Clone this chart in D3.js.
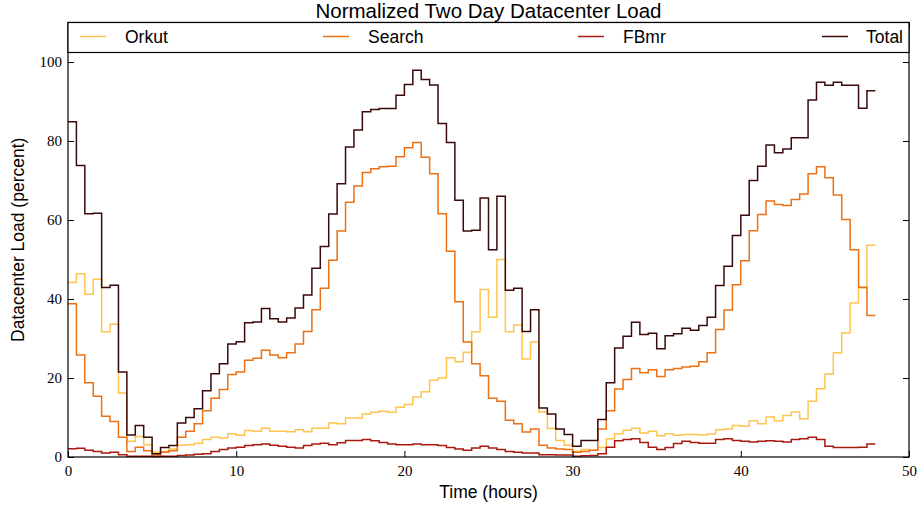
<!DOCTYPE html>
<html><head><meta charset="utf-8">
<script src="https://cdn.jsdelivr.net/npm/d3@7"></script>
<style>
body{margin:0;background:#fff;}
svg{display:block;}
.tick text{font-family:"Liberation Serif","DejaVu Serif",serif;font-size:15px;fill:#000;}
</style></head><body>
<svg id="chart" width="919" height="506"></svg>
<script>
// Time step: half-hour bins over 48 hours
const stepHours = 0.5;
const seriesNames = ["Orkut", "Search", "FBmr", "Total"];
const seriesColors = ["#fec44f", "#ec7014", "#a81a10", "#3a0a0a"];
const xTicks = [0, 10, 20, 30, 40, 50];
const yTicks = [0, 20, 40, 60, 80, 100];

const orkut = [44.2,46.4,41.2,45.0,31.7,33.6,16.2,4.0,5.2,3.1,1.2,1.4,2.0,3.0,3.1,3.5,
  4.4,5.0,4.8,5.9,5.5,6.7,6.5,7.3,6.5,6.5,6.4,6.9,6.4,7.3,7.3,8.6,
  8.4,9.9,9.9,10.9,11.3,11.6,11.3,12.6,13.3,15.2,16.5,19.4,20.0,25.1,24.1,26.5,
  31.7,42.4,35.4,50.0,31.7,33.4,24.8,29.1,11.4,7.2,4.2,3.0,1.4,1.9,1.7,2.4,
  4.6,5.9,6.8,7.3,6.1,6.5,5.4,5.9,5.5,5.7,5.7,5.6,5.8,6.9,7.1,8.0,
  7.8,9.2,8.4,10.1,9.2,10.5,11.4,9.7,14.1,17.3,21.0,26.4,31.4,39.0,42.8,53.6];
const search = [38.8,25.8,18.8,15.4,10.3,9.0,5.0,1.4,2.5,1.6,0.5,1.2,1.6,5.0,6.5,8.4,
  11.7,14.9,17.1,20.9,21.5,24.5,25.0,27.0,25.8,25.1,26.4,28.6,31.8,37.3,42.7,49.8,
  57.2,64.5,68.6,72.0,73.0,73.5,73.6,76.0,78.3,79.6,75.9,71.7,61.6,52.1,39.3,29.1,
  23.6,20.6,14.9,14.1,9.3,8.4,6.3,7.1,3.0,2.3,2.0,1.9,1.2,1.4,1.7,7.1,
  11.7,17.2,19.6,22.4,21.3,22.1,20.4,22.1,22.4,22.8,23.0,24.1,26.4,32.3,37.2,43.6,
  49.7,57.3,61.4,64.8,63.9,63.7,65.2,66.6,71.7,73.5,70.7,66.3,60.1,52.5,43.0,35.8];
const fbmr = [2.1,2.2,1.7,1.4,1.0,1.2,0.6,0.2,0.2,0.2,0.1,0.2,0.2,0.4,0.5,0.7,
  0.8,1.4,1.9,2.3,2.5,2.9,3.1,3.3,3.0,2.7,2.5,2.3,2.9,3.3,3.5,3.1,
  3.6,4.2,4.2,4.4,4.1,3.7,3.3,3.1,3.1,3.3,3.1,3.1,2.9,2.4,2.0,1.7,
  2.3,2.7,2.3,1.9,1.4,1.2,1.0,1.0,0.6,0.6,0.5,0.5,0.2,0.3,0.4,0.8,
  2.5,4.1,4.4,4.6,3.7,2.5,1.9,2.4,3.4,4.0,3.7,3.5,3.5,4.4,4.6,4.2,
  4.0,3.8,4.0,4.1,4.0,3.8,4.4,4.6,5.0,4.4,2.7,2.4,2.4,2.4,2.5,3.3];
const total = [84.9,73.8,61.6,61.7,42.9,43.5,21.5,5.6,8.0,5.0,0.8,2.4,2.9,8.6,10.0,12.2,
  16.8,21.1,23.6,28.6,29.2,34.0,34.2,37.6,35.0,34.2,35.2,37.7,41.0,47.8,53.3,61.5,
  69.2,78.5,82.8,87.4,88.0,88.2,88.2,91.6,94.3,97.9,95.6,94.2,84.4,79.6,65.0,57.2,
  57.4,65.6,52.5,66.0,42.2,42.7,31.8,37.3,12.4,10.9,7.1,5.7,2.7,4.2,4.2,9.5,
  18.8,27.6,30.6,34.1,31.0,31.3,27.4,30.7,31.2,32.6,32.1,33.3,35.4,43.4,48.3,56.1,
  61.2,70.0,73.6,79.0,77.0,78.0,80.8,80.8,90.4,94.9,94.1,94.9,94.1,94.1,88.3,92.7];

const seriesValues = [orkut, search, fbmr, total];

const svg = d3.select("#chart");
const m = {left: 68, right: 10, top: 22.5, bottom: 49};
const W = 919, H = 506;
const x = d3.scaleLinear().domain([0, 50]).range([m.left, W - m.right]);
const y = d3.scaleLinear().domain([0, 110]).range([H - m.bottom, m.top]);

const line = d3.line().curve(d3.curveStepAfter).x(d => x(d[0])).y(d => y(d[1]));

seriesValues.forEach((vals, i) => {
  const pts = vals.map((v, k) => [k * stepHours, v]);
  pts.push([vals.length * stepHours, vals[vals.length - 1]]);
  svg.append("path").datum(pts)
    .attr("d", line).attr("fill", "none")
    .attr("stroke", seriesColors[i]).attr("stroke-width", 1.5)
    .attr("stroke-linejoin", "miter");
});

// axes (ticks inward, mirrored)
const gx = svg.append("g").attr("transform", `translate(0,${y(0)})`)
  .call(d3.axisBottom(x).tickValues(xTicks).tickSizeInner(-6).tickSizeOuter(0).tickPadding(8));
const gy = svg.append("g").attr("transform", `translate(${m.left},0)`)
  .call(d3.axisLeft(y).tickValues(yTicks).tickSizeInner(-6).tickSizeOuter(0).tickPadding(6));
const gr = svg.append("g").attr("transform", `translate(${W - m.right},0)`)
  .call(d3.axisRight(y).tickValues(yTicks).tickSizeInner(-6).tickSizeOuter(0).tickFormat(""));
const gt = svg.append("g").attr("transform", `translate(0,${m.top})`)
  .call(d3.axisTop(x).tickValues(xTicks).tickSizeInner(-6).tickSizeOuter(0).tickFormat(""));
[gx, gy, gr, gt].forEach(g => {
  g.select(".domain").remove();
  g.selectAll(".tick line").attr("stroke", "#000").attr("stroke-width", 1);
});

// frame
svg.append("rect").attr("x", m.left).attr("y", m.top)
  .attr("width", W - m.right - m.left).attr("height", y(0) - m.top)
  .attr("fill", "none").attr("stroke", "#000").attr("stroke-width", 1.2);

// legend (expanded across top)
const lg = svg.append("g");
lg.append("rect").attr("x", m.left).attr("y", m.top)
  .attr("width", W - m.right - m.left).attr("height", 30)
  .attr("fill", "#fff").attr("stroke", "#000").attr("stroke-width", 1.2);
const legendX = [80, 323, 578, 822];
seriesNames.forEach((n, i) => {
  lg.append("line").attr("x1", legendX[i]).attr("x2", legendX[i] + 26)
    .attr("y1", 36.5).attr("y2", 36.5)
    .attr("stroke", seriesColors[i]).attr("stroke-width", 1.5);
  const tx = i === 3 ? 903 : legendX[i] + 45;
  lg.append("text").attr("x", tx).attr("y", 42.5)
    .attr("text-anchor", i === 3 ? "end" : "start")
    .style("font-family", "'Liberation Sans', Arial, sans-serif").style("font-size", "17.5px")
    .text(n);
});

// title & labels
svg.append("text").attr("x", (m.left + W - m.right) / 2).attr("y", 18)
  .attr("text-anchor", "middle")
  .style("font-family", "'Liberation Sans', Arial, sans-serif").style("font-size", "20.5px")
  .text("Normalized Two Day Datacenter Load");
svg.append("text").attr("x", (m.left + W - m.right) / 2).attr("y", 498)
  .attr("text-anchor", "middle")
  .style("font-family", "'Liberation Sans', Arial, sans-serif").style("font-size", "17.5px")
  .text("Time (hours)");
svg.append("text").attr("transform", `translate(24,${(m.top + y(0)) / 2}) rotate(-90)`)
  .attr("text-anchor", "middle")
  .style("font-family", "'Liberation Sans', Arial, sans-serif").style("font-size", "17.5px")
  .text("Datacenter Load (percent)");
</script></body></html>
